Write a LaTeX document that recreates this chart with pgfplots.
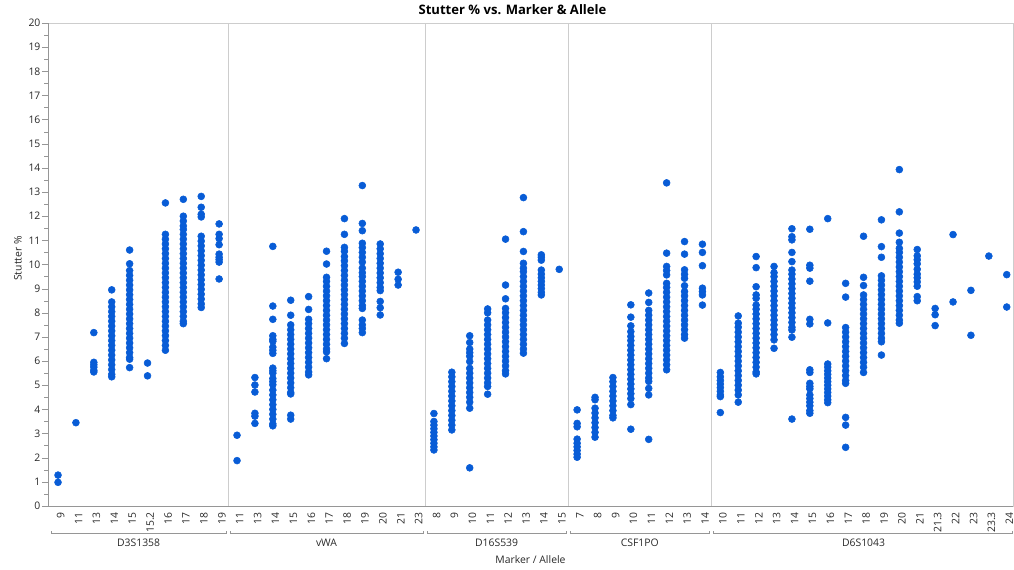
\documentclass[border=0pt]{standalone}
\usepackage{pgfplots}
\pgfplotsset{compat=1.18}
\usepackage{fontspec}
\setmainfont{Open Sans}
\definecolor{dotblue}{RGB}{8,92,214}
\definecolor{framegray}{RGB}{205,205,205}
\definecolor{axgray}{RGB}{150,150,150}
\definecolor{txt}{RGB}{40,40,40}
\begin{document}
\begin{tikzpicture}
\begin{axis}[name=ax, scale only axis, width=723.75pt, height=362.25pt,
  xmin=-0.56, xmax=53.35, ymin=0, ymax=20,
  xtick={0,...,53},
  xticklabels={9,11,13,14,15,15.2,16,17,18,19,11,13,14,15,16,17,18,19,20,21,23,8,9,10,11,12,13,14,15,7,8,9,10,11,12,13,14,10,11,12,13,14,15,16,17,18,19,20,21,21.3,22,23,23.3,24},
  ytick={0,...,20}, minor y tick num=1,
  xtick pos=bottom, ytick pos=left,
  tick align=outside,
  major tick length=4.5pt, minor tick length=2.7pt,
  x tick style={draw=none}, y tick style={axgray},
  axis line style={framegray},
  /pgf/number format/assume math mode=true,
  xticklabel style={rotate=90, anchor=east, inner sep=0pt, yshift=-2pt, font=\fontsize{7.8}{8}\selectfont, text=txt},
  yticklabel style={anchor=east, inner sep=0pt, xshift=-1pt, font=\fontsize{7.8}{8}\selectfont, text=txt},
  clip=false,
]
\draw[framegray] (axis cs:9.5,0) -- (axis cs:9.5,20);
\draw[framegray] (axis cs:20.5,0) -- (axis cs:20.5,20);
\draw[framegray] (axis cs:28.5,0) -- (axis cs:28.5,20);
\draw[framegray] (axis cs:36.5,0) -- (axis cs:36.5,20);
\draw[axgray] (rel axis cs:0,1) -- (rel axis cs:0,0) -- (rel axis cs:1,0);

\addplot[only marks, mark=*, mark size=2.6pt, color=dotblue, mark options={draw=none, fill=dotblue}] coordinates {
(0,1.28)(0,0.98)
(1,3.45)
(2,7.18)(2,5.95)(2,5.85)(2,5.75)(2,5.62)(2,5.55)
(3,8.95)(3,8.45)(3,8.25)(3,8.05)(3,7.85)(3,7.65)(3,7.45)(3,7.25)(3,7.05)(3,6.85)(3,6.65)(3,6.45)(3,6.25)(3,6.05)(3,5.85)(3,5.65)(3,5.45)(3,5.35)
(4,10.6)(4,10.03)(4,9.75)(4,9.55)(4,9.35)(4,9.15)(4,8.95)(4,8.75)(4,8.55)(4,8.35)(4,8.15)(4,7.95)(4,7.75)(4,7.55)(4,7.35)(4,7.15)(4,6.95)(4,6.75)(4,6.55)(4,6.35)(4,6.15)(4,6.08)(4,5.73)
(5,5.92)(5,5.39)
(6,12.55)(6,11.25)(6,11.05)(6,10.85)(6,10.65)(6,10.45)(6,10.25)(6,10.05)(6,9.85)(6,9.65)(6,9.45)(6,9.25)(6,9.05)(6,8.85)(6,8.65)(6,8.45)(6,8.25)(6,8.05)(6,7.85)(6,7.65)(6,7.45)(6,7.25)(6,7.05)(6,6.85)(6,6.65)(6,6.45)
(7,12.7)(7,12.0)(7,11.8)(7,11.6)(7,11.45)(7,11.25)(7,11.05)(7,10.85)(7,10.65)(7,10.45)(7,10.25)(7,10.05)(7,9.85)(7,9.65)(7,9.45)(7,9.25)(7,9.05)(7,8.85)(7,8.65)(7,8.45)(7,8.25)(7,8.05)(7,7.85)(7,7.65)(7,7.55)
(8,12.82)(8,12.37)(8,12.08)(8,11.97)(8,11.17)(8,10.97)(8,10.77)(8,10.57)(8,10.37)(8,10.17)(8,9.97)(8,9.77)(8,9.57)(8,9.37)(8,9.17)(8,8.97)(8,8.77)(8,8.57)(8,8.37)(8,8.22)
(9,11.68)(9,11.25)(9,11.07)(9,10.82)(9,10.43)(9,10.3)(9,10.2)(9,10.1)(9,9.4)
(10,2.93)(10,1.88)
(11,5.32)(11,5.01)(11,4.72)(11,3.84)(11,3.72)(11,3.42)
(12,10.75)(12,8.28)(12,7.73)(12,7.05)(12,6.9)(12,6.82)(12,6.58)(12,6.45)(12,6.32)(12,5.71)(12,5.6)(12,5.5)(12,5.28)(12,5.15)(12,5.02)(12,4.8)(12,4.6)(12,4.4)(12,4.2)(12,4.0)(12,3.8)(12,3.6)(12,3.4)(12,3.32)
(13,8.52)(13,7.9)(13,7.5)(13,7.3)(13,7.1)(13,6.9)(13,6.7)(13,6.5)(13,6.3)(13,6.1)(13,5.9)(13,5.7)(13,5.5)(13,5.3)(13,5.1)(13,4.9)(13,4.7)(13,4.64)(13,3.76)(13,3.6)
(14,8.67)(14,8.14)(14,7.73)(14,7.55)(14,7.35)(14,7.15)(14,6.95)(14,6.75)(14,6.55)(14,6.35)(14,6.15)(14,5.95)(14,5.75)(14,5.55)(14,5.43)
(15,10.55)(15,10.02)(15,9.47)(15,9.3)(15,9.1)(15,8.9)(15,8.7)(15,8.5)(15,8.3)(15,8.1)(15,7.9)(15,7.7)(15,7.5)(15,7.3)(15,7.1)(15,6.9)(15,6.7)(15,6.5)(15,6.38)(15,6.1)
(16,11.9)(16,11.25)(16,10.71)(16,10.55)(16,10.33)(16,10.15)(16,9.95)(16,9.75)(16,9.55)(16,9.35)(16,9.15)(16,8.95)(16,8.75)(16,8.55)(16,8.35)(16,8.15)(16,7.95)(16,7.75)(16,7.55)(16,7.35)(16,7.15)(16,6.95)(16,6.73)
(17,13.27)(17,11.7)(17,11.4)(17,10.88)(17,10.7)(17,10.5)(17,10.3)(17,10.1)(17,9.85)(17,9.66)(17,9.5)(17,9.3)(17,9.1)(17,8.9)(17,8.7)(17,8.5)(17,8.3)(17,8.18)(17,7.7)(17,7.5)(17,7.35)(17,7.18)
(18,10.85)(18,10.65)(18,10.45)(18,10.25)(18,10.05)(18,9.85)(18,9.65)(18,9.45)(18,9.25)(18,9.05)(18,8.92)(18,8.47)(18,8.21)(18,7.91)
(19,9.68)(19,9.39)(19,9.15)
(20,11.43)
(21,3.83)(21,3.5)(21,3.35)(21,3.2)(21,3.05)(21,2.9)(21,2.75)(21,2.6)(21,2.45)(21,2.32)
(22,5.54)(22,5.35)(22,5.15)(22,4.95)(22,4.75)(22,4.55)(22,4.35)(22,4.15)(22,3.95)(22,3.75)(22,3.55)(22,3.35)(22,3.15)
(23,7.05)(23,6.77)(23,6.5)(23,6.35)(23,6.2)(23,5.98)(23,5.7)(23,5.5)(23,5.3)(23,5.1)(23,4.9)(23,4.7)(23,4.5)(23,4.3)(23,4.05)(23,1.58)
(24,8.16)(24,8.0)(24,7.7)(24,7.5)(24,7.3)(24,7.1)(24,6.9)(24,6.7)(24,6.5)(24,6.3)(24,6.1)(24,5.9)(24,5.7)(24,5.5)(24,5.3)(24,5.1)(24,4.95)(24,4.63)
(25,11.05)(25,9.15)(25,8.58)(25,8.18)(25,8.0)(25,7.8)(25,7.6)(25,7.4)(25,7.2)(25,7.0)(25,6.8)(25,6.6)(25,6.4)(25,6.2)(25,6.0)(25,5.8)(25,5.6)(25,5.47)
(26,12.77)(26,11.36)(26,10.54)(26,10.05)(26,9.85)(26,9.7)(26,9.5)(26,9.3)(26,9.1)(26,8.9)(26,8.7)(26,8.5)(26,8.3)(26,8.1)(26,7.9)(26,7.7)(26,7.5)(26,7.3)(26,7.1)(26,6.9)(26,6.7)(26,6.5)(26,6.33)
(27,10.4)(27,10.3)(27,10.18)(27,9.77)(27,9.6)(27,9.45)(27,9.3)(27,9.15)(27,9.0)(27,8.85)(27,8.74)
(28,9.8)
(29,3.98)(29,3.42)(29,3.28)(29,2.77)(29,2.6)(29,2.45)(29,2.3)(29,2.15)(29,2.02)
(30,4.5)(30,4.4)(30,4.05)(30,3.85)(30,3.65)(30,3.45)(30,3.25)(30,3.05)(30,2.85)
(31,5.32)(31,5.15)(31,4.95)(31,4.75)(31,4.55)(31,4.35)(31,4.15)(31,3.95)(31,3.75)(31,3.65)
(32,8.33)(32,7.82)(32,7.46)(32,7.22)(32,7.02)(32,6.85)(32,6.65)(32,6.45)(32,6.25)(32,6.05)(32,5.85)(32,5.65)(32,5.45)(32,5.25)(32,5.05)(32,4.85)(32,4.65)(32,4.45)(32,4.2)(32,3.18)
(33,8.82)(33,8.43)(33,8.1)(33,7.9)(33,7.7)(33,7.5)(33,7.3)(33,7.1)(33,6.9)(33,6.7)(33,6.5)(33,6.3)(33,6.1)(33,5.9)(33,5.7)(33,5.5)(33,5.3)(33,5.16)(33,4.87)(33,4.6)(33,2.76)
(34,13.38)(34,10.47)(34,9.92)(34,9.75)(34,9.57)(34,9.22)(34,9.05)(34,8.85)(34,8.65)(34,8.45)(34,8.25)(34,8.05)(34,7.85)(34,7.65)(34,7.45)(34,7.25)(34,7.05)(34,6.85)(34,6.65)(34,6.45)(34,6.25)(34,6.05)(34,5.85)(34,5.64)
(35,10.95)(35,10.43)(35,9.78)(35,9.6)(35,9.43)(35,9.12)(35,8.88)(35,8.7)(35,8.5)(35,8.3)(35,8.1)(35,7.9)(35,7.7)(35,7.5)(35,7.3)(35,7.1)(35,6.95)
(36,10.84)(36,10.5)(36,9.95)(36,9.02)(36,8.88)(36,8.74)(36,8.32)
(37,5.53)(37,5.35)(37,5.2)(37,5.05)(37,4.9)(37,4.75)(37,4.6)(37,4.53)(37,3.87)
(38,7.87)(38,7.57)(38,7.4)(38,7.2)(38,7.0)(38,6.8)(38,6.6)(38,6.4)(38,6.2)(38,6.0)(38,5.8)(38,5.6)(38,5.4)(38,5.2)(38,5.0)(38,4.8)(38,4.6)(38,4.3)
(39,10.33)(39,9.87)(39,9.08)(39,8.74)(39,8.6)(39,8.32)(39,8.15)(39,7.95)(39,7.75)(39,7.55)(39,7.35)(39,7.15)(39,6.95)(39,6.75)(39,6.55)(39,6.35)(39,6.15)(39,5.95)(39,5.75)(39,5.55)(39,5.47)
(40,9.92)(40,9.66)(40,9.5)(40,9.3)(40,9.1)(40,8.9)(40,8.7)(40,8.5)(40,8.3)(40,8.1)(40,7.9)(40,7.7)(40,7.5)(40,7.3)(40,7.1)(40,6.88)(40,6.53)
(41,11.48)(41,11.15)(41,11.02)(41,10.5)(41,10.12)(41,9.77)(41,9.6)(41,9.4)(41,9.2)(41,9.0)(41,8.8)(41,8.6)(41,8.4)(41,8.2)(41,8.0)(41,7.8)(41,7.6)(41,7.4)(41,7.29)(41,6.99)(41,3.6)
(42,11.46)(42,9.97)(42,9.85)(42,9.31)(42,7.73)(42,7.54)(42,5.64)(42,5.53)(42,5.08)(42,4.95)(42,4.85)(42,4.6)(42,4.45)(42,4.3)(42,4.15)(42,3.95)(42,3.84)
(43,11.9)(43,7.58)(43,5.88)(43,5.75)(43,5.6)(43,5.45)(43,5.3)(43,5.15)(43,5.0)(43,4.85)(43,4.7)(43,4.55)(43,4.4)(43,4.28)
(44,9.22)(44,8.65)(44,7.39)(44,7.2)(44,7.0)(44,6.8)(44,6.6)(44,6.4)(44,6.2)(44,6.0)(44,5.8)(44,5.6)(44,5.4)(44,5.2)(44,5.08)(44,3.67)(44,3.35)(44,2.43)
(45,11.17)(45,9.47)(45,9.13)(45,8.74)(45,8.55)(45,8.35)(45,8.15)(45,7.95)(45,7.75)(45,7.55)(45,7.35)(45,7.15)(45,6.95)(45,6.75)(45,6.55)(45,6.35)(45,6.15)(45,5.95)(45,5.75)(45,5.53)
(46,11.85)(46,10.74)(46,10.3)(46,9.53)(46,9.35)(46,9.15)(46,8.95)(46,8.75)(46,8.55)(46,8.35)(46,8.15)(46,7.95)(46,7.75)(46,7.55)(46,7.35)(46,7.15)(46,6.95)(46,6.8)(46,6.25)
(47,13.93)(47,12.18)(47,11.3)(47,10.92)(47,10.67)(47,10.5)(47,10.3)(47,10.1)(47,9.9)(47,9.7)(47,9.5)(47,9.3)(47,9.1)(47,8.9)(47,8.7)(47,8.5)(47,8.3)(47,8.1)(47,7.9)(47,7.7)(47,7.57)
(48,10.62)(48,10.36)(48,10.2)(48,10.03)(48,9.8)(48,9.6)(48,9.45)(48,9.28)(48,9.1)(48,8.67)(48,8.5)
(49,8.18)(49,7.92)(49,7.47)
(50,11.24)(50,8.45)
(51,8.93)(51,7.07)
(52,10.35)
(53,9.58)(53,8.24)
};

% group brackets
\draw[axgray] ([yshift=-19pt]axis cs:-0.4,0) -- ([yshift=-20.5pt]axis cs:-0.4,0) -- ([yshift=-20.5pt]axis cs:9.4,0) -- ([yshift=-19pt]axis cs:9.4,0);
\draw[axgray] ([yshift=-19pt]axis cs:9.6,0) -- ([yshift=-20.5pt]axis cs:9.6,0) -- ([yshift=-20.5pt]axis cs:20.4,0) -- ([yshift=-19pt]axis cs:20.4,0);
\draw[axgray] ([yshift=-19pt]axis cs:20.6,0) -- ([yshift=-20.5pt]axis cs:20.6,0) -- ([yshift=-20.5pt]axis cs:28.4,0) -- ([yshift=-19pt]axis cs:28.4,0);
\draw[axgray] ([yshift=-19pt]axis cs:28.6,0) -- ([yshift=-20.5pt]axis cs:28.6,0) -- ([yshift=-20.5pt]axis cs:36.4,0) -- ([yshift=-19pt]axis cs:36.4,0);
\draw[axgray] ([yshift=-19pt]axis cs:36.6,0) -- ([yshift=-20.5pt]axis cs:36.6,0) -- ([yshift=-20.5pt]axis cs:53.3,0) -- ([yshift=-19pt]axis cs:53.3,0);
\tikzset{grp/.style={font=\fontsize{7.8}{8}\selectfont, text=txt, inner sep=0pt}}
\node[grp] at ([yshift=-27.4pt]axis cs:4.5,0) {D3S1358};
\node[grp] at ([yshift=-27.4pt]axis cs:15,0) {vWA};
\node[grp] at ([yshift=-27.4pt]axis cs:24.5,0) {D16S539};
\node[grp] at ([yshift=-27.4pt]axis cs:32.5,0) {CSF1PO};
\node[grp] at ([yshift=-27.4pt]axis cs:45,0) {D6S1043};
\node[grp] at ([yshift=-40.5pt]rel axis cs:0.5,0) {Marker / Allele};
\node[grp, rotate=90] at ([xshift=-22.5pt, yshift=4.5pt]rel axis cs:0,0.5) {Stutter \%};
\node[font=\bfseries\fontsize{9.8}{10}\selectfont, text=black, inner sep=0pt] at ([xshift=-13.5pt, yshift=9.75pt]rel axis cs:0.5,1) {Stutter \% vs. Marker \& Allele};
\end{axis}
\pgfresetboundingbox
\path[use as bounding box] ([shift={(-36pt,-47.25pt)}]ax.south west) rectangle ([shift={(0.75pt,17.25pt)}]ax.north east);
\end{tikzpicture}
\end{document}
